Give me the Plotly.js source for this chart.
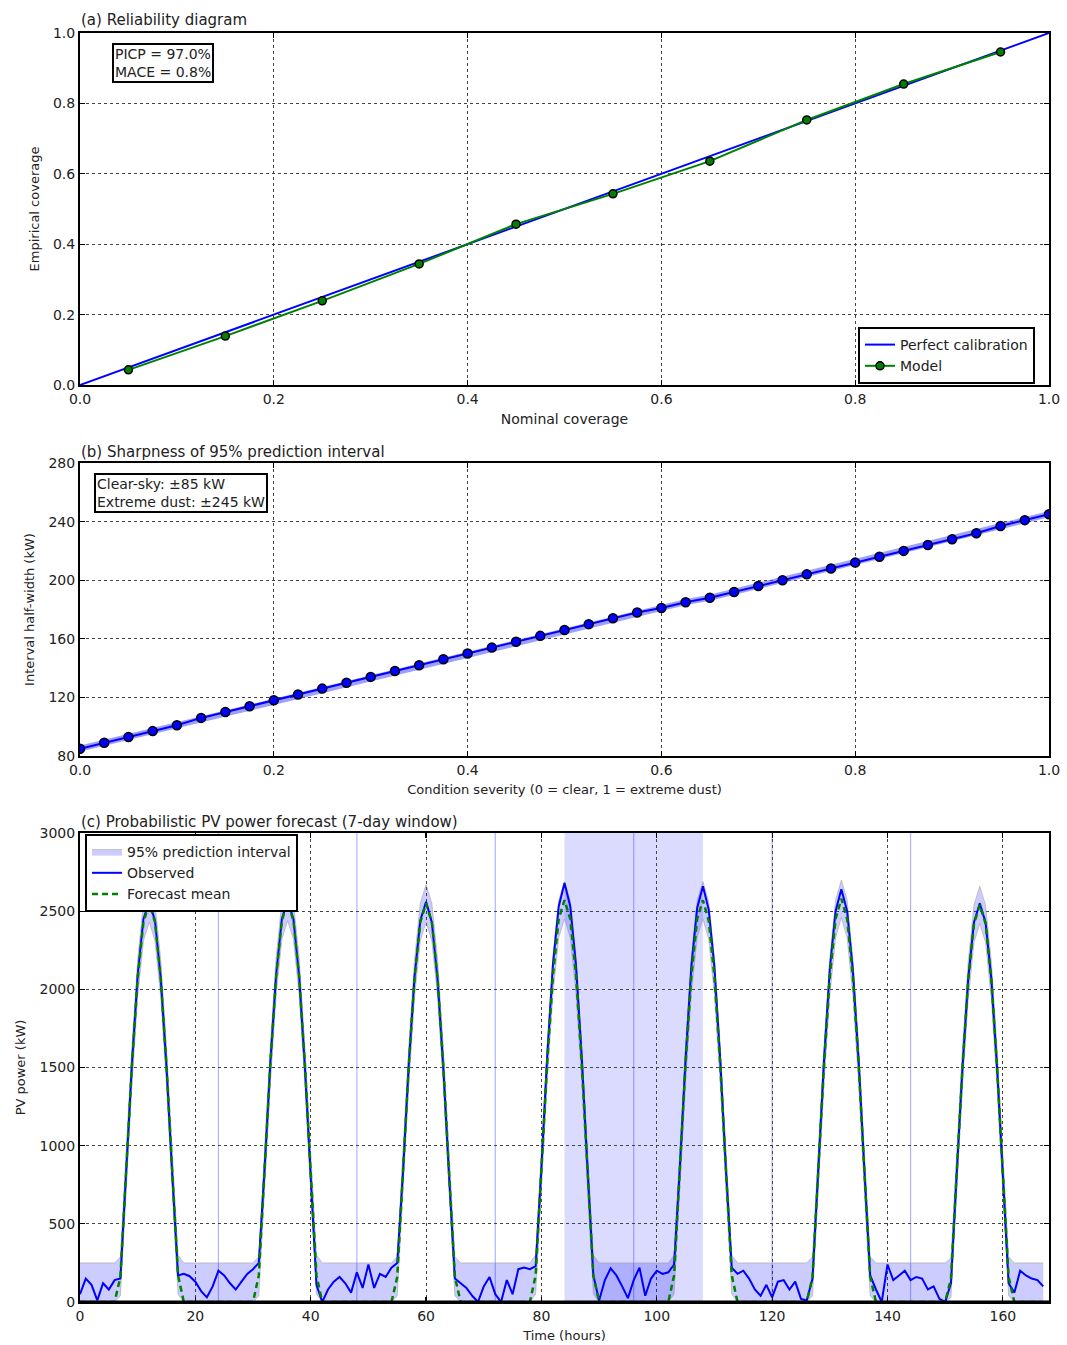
<!DOCTYPE html>
<html>
<head>
<meta charset="utf-8">
<script src="https://cdn.plot.ly/plotly-3.0.1.min.js"></script>
<style>html,body{margin:0;padding:0;background:#fff;}#chart{width:1067px;height:1345px;}</style>
</head>
<body>
<div id="chart"></div>
<script>
// ---------- Panel (a) Reliability diagram ----------
const perfectX = [0, 1];
const perfectY = [0, 1];
const nominalCoverage = [0.05, 0.15, 0.25, 0.35, 0.45, 0.55, 0.65, 0.75, 0.85, 0.95];
const empiricalCoverage = [0.043, 0.139, 0.239, 0.344, 0.457, 0.543, 0.636, 0.753, 0.855, 0.946];

// ---------- Panel (b) Sharpness ----------
const severity = [0, 0.025, 0.05, 0.075, 0.1, 0.125, 0.15, 0.175, 0.2, 0.225, 0.25, 0.275, 0.3, 0.325, 0.35, 0.375, 0.4, 0.425, 0.45, 0.475,
  0.5, 0.525, 0.55, 0.575, 0.6, 0.625, 0.65, 0.675, 0.7, 0.725, 0.75, 0.775, 0.8, 0.825, 0.85, 0.875, 0.9, 0.925, 0.95, 0.975, 1.0];
const halfWidth = [85, 89, 93, 97, 101, 106, 110, 114, 118, 122, 126, 130, 134, 138, 142, 146, 150, 154, 158, 162,
  166, 170, 174, 178, 181, 185, 188, 192, 196, 200, 204, 208, 212, 216, 220, 224, 228, 232, 237, 241, 245];

// ---------- Panel (c) Probabilistic PV forecast ----------
const hours = [
  0,1,2,3,4,5,6,7,8,9,10,11,12,13,14,15,16,17,18,19,20,21,22,23,
  24,25,26,27,28,29,30,31,32,33,34,35,36,37,38,39,40,41,42,43,44,45,46,47,
  48,49,50,51,52,53,54,55,56,57,58,59,60,61,62,63,64,65,66,67,68,69,70,71,
  72,73,74,75,76,77,78,79,80,81,82,83,84,85,86,87,88,89,90,91,92,93,94,95,
  96,97,98,99,100,101,102,103,104,105,106,107,108,109,110,111,112,113,114,115,116,117,118,119,
  120,121,122,123,124,125,126,127,128,129,130,131,132,133,134,135,136,137,138,139,140,141,142,143,
  144,145,146,147,148,149,150,151,152,153,154,155,156,157,158,159,160,161,162,163,164,165,166,167];
const observed = [
  50,150,110,10,120,80,140,150,830,1520,2090,2450,2560,2440,2070,1500,810,170,180,165,130,70,30,100,
  200,170,120,80,130,180,210,250,850,1530,2090,2450,2570,2450,2080,1500,800,110,0,80,130,160,120,60,
  190,90,240,90,180,160,220,250,830,1520,2080,2440,2560,2430,2060,1490,800,150,120,90,40,0,100,160,
  50,0,140,50,210,220,210,230,860,1570,2160,2530,2680,2530,2150,1560,850,170,10,140,215,170,100,25,
  140,220,40,150,200,180,190,240,860,1560,2150,2520,2660,2510,2140,1550,840,220,180,200,150,80,40,110,
  30,130,140,80,130,20,10,150,850,1550,2130,2500,2640,2500,2120,1540,840,170,80,0,240,140,170,200,
  140,160,150,80,100,20,0,120,820,1500,2070,2430,2550,2430,2070,1500,810,120,60,200,170,150,140,100];
const forecastMean = [
  0,0,0,0,0,0,0,160,830,1510,2070,2430,2550,2430,2070,1510,830,170,0,0,0,0,0,0,
  0,0,0,0,0,0,0,170,840,1520,2080,2440,2560,2440,2080,1510,830,170,0,0,0,0,0,0,
  0,0,0,0,0,0,0,160,830,1510,2070,2430,2550,2430,2070,1500,820,160,0,0,0,0,0,0,
  0,0,0,0,0,0,0,170,850,1530,2090,2450,2570,2450,2090,1520,840,170,0,0,0,0,0,0,
  0,0,0,0,0,0,0,170,840,1530,2090,2450,2570,2440,2080,1520,840,170,0,0,0,0,0,0,
  0,0,0,0,0,0,0,160,840,1520,2080,2450,2580,2450,2080,1520,830,160,0,0,0,0,0,0,
  0,0,0,0,0,0,0,150,820,1500,2060,2420,2540,2420,2060,1500,820,160,0,0,0,0,0,0];
const intervalLower = [
  0,0,0,0,0,0,0,40,710,1390,1950,2310,2430,2310,1950,1390,710,50,0,0,0,0,0,0,
  0,0,0,0,0,0,0,40,720,1400,1960,2320,2440,2320,1960,1390,710,50,0,0,0,0,0,0,
  0,0,0,0,0,0,0,40,710,1390,1950,2310,2430,2310,1950,1380,700,40,0,0,0,0,0,0,
  0,0,0,0,0,0,0,50,730,1410,1970,2330,2450,2330,1970,1400,720,50,0,0,0,0,0,0,
  0,0,0,0,0,0,0,50,720,1410,1970,2330,2450,2320,1960,1400,720,50,0,0,0,0,0,0,
  0,0,0,0,0,0,0,40,720,1400,1960,2330,2460,2330,1960,1400,710,40,0,0,0,0,0,0,
  0,0,0,0,0,0,0,30,700,1380,1940,2300,2420,2300,1940,1380,700,40,0,0,0,0,0,0];
const intervalUpper = [
  250,250,250,250,250,250,250,290,950,1630,2190,2550,2670,2550,2190,1630,950,300,250,250,250,250,250,250,
  250,250,250,250,250,250,250,290,960,1640,2200,2560,2680,2560,2200,1630,950,300,250,250,250,250,250,250,
  250,250,250,250,250,250,250,290,950,1630,2190,2550,2670,2550,2190,1620,940,290,250,250,250,250,250,250,
  250,250,250,250,250,250,250,300,970,1650,2210,2570,2690,2570,2210,1640,960,300,250,250,250,250,250,250,
  250,250,250,250,250,250,250,300,960,1650,2210,2570,2690,2560,2200,1640,960,300,250,250,250,250,250,250,
  250,250,250,250,250,250,250,290,960,1640,2200,2570,2700,2570,2200,1640,950,290,250,250,250,250,250,250,
  250,250,250,250,250,250,250,280,940,1620,2180,2540,2660,2540,2180,1620,940,290,250,250,250,250,250,250];
const dayBoundaries = [24, 48, 72, 96, 120, 144];
const dustEvent = [84, 108];

// ---------- Styling ----------
const FONT = 'DejaVu Sans, sans-serif';
const TXT = '#222';
const common = {
  showline: true, linecolor: '#000', linewidth: 2, mirror: 'ticks',
  ticks: 'inside', ticklen: 5, tickwidth: 1.2, tickcolor: '#000',
  showgrid: true, gridcolor: '#444', griddash: 'dot', gridwidth: 1,
  zeroline: false, automargin: false,
  tickfont: {family: FONT, size: 14, color: TXT}
};
const xDom = [80/1067, 1049/1067];

const traces = [
  // (a)
  {x: perfectX, y: perfectY, xaxis: 'x', yaxis: 'y', mode: 'lines', name: 'Perfect calibration',
   line: {color: '#0000ff', width: 2}, legend: 'legend'},
  {x: nominalCoverage, y: empiricalCoverage, xaxis: 'x', yaxis: 'y', mode: 'lines+markers', name: 'Model',
   line: {color: '#008000', width: 2},
   marker: {color: '#008000', size: 8, line: {color: '#000', width: 1.5}}, legend: 'legend'},
  // (b)
  {x: severity, y: halfWidth, xaxis: 'x2', yaxis: 'y2', mode: 'lines', showlegend: false,
   line: {color: 'rgba(80,80,255,0.55)', width: 6}, hoverinfo: 'skip'},
  {x: severity, y: halfWidth, xaxis: 'x2', yaxis: 'y2', mode: 'lines+markers', showlegend: false,
   line: {color: '#0000ff', width: 2},
   marker: {color: '#0000ff', size: 9, line: {color: '#000', width: 1.5}}},
  // (c)
  {x: hours, y: intervalLower, xaxis: 'x3', yaxis: 'y3', mode: 'lines', showlegend: false,
   line: {color: 'rgba(150,150,150,0.5)', width: 1}, legend: 'legend2', hoverinfo: 'skip'},
  {x: hours, y: intervalUpper, xaxis: 'x3', yaxis: 'y3', mode: 'lines', name: '95% prediction interval',
   fill: 'tonexty', fillcolor: 'rgba(0,0,255,0.2)',
   line: {color: 'rgba(150,150,150,0.5)', width: 1}, legend: 'legend2'},
  {x: hours, y: observed, xaxis: 'x3', yaxis: 'y3', mode: 'lines', name: 'Observed',
   line: {color: '#0000ff', width: 2}, legend: 'legend2'},
  {x: hours, y: forecastMean, xaxis: 'x3', yaxis: 'y3', mode: 'lines', name: 'Forecast mean',
   line: {color: '#008000', width: 2.5, dash: '6px,4px'}, legend: 'legend2'}
];

const shapes = [];
shapes.push({type: 'rect', xref: 'x3', yref: 'y3 domain', x0: dustEvent[0], x1: dustEvent[1], y0: 0, y1: 1,
  fillcolor: 'rgba(0,0,255,0.14)', line: {width: 0}, layer: 'below'});
dayBoundaries.forEach(d => shapes.push({type: 'line', xref: 'x3', yref: 'y3 domain', x0: d, x1: d, y0: 0, y1: 1,
  line: {color: 'rgba(0,0,255,0.3)', width: 1.2}, layer: 'below'}));
// spine over the zero baseline of panel (c), as in the original
shapes.push({type: 'line', xref: 'x3 domain', yref: 'y3 domain', x0: 0, x1: 1, y0: 0, y1: 0,
  line: {color: '#000', width: 3}, layer: 'above'});

const boxFont = {family: FONT, size: 14, color: TXT};
const titleFont = {family: FONT, size: 15, color: TXT};
const annotations = [
  {xref: 'paper', yref: 'paper', x: 79/1067, y: 1 - 31/1345, xanchor: 'left', yanchor: 'bottom',
   text: '(a) Reliability diagram', showarrow: false, font: titleFont},
  {xref: 'paper', yref: 'paper', x: 79/1067, y: 1 - 463/1345, xanchor: 'left', yanchor: 'bottom',
   text: '(b) Sharpness of 95% prediction interval', showarrow: false, font: titleFont},
  {xref: 'paper', yref: 'paper', x: 79/1067, y: 1 - 833/1345, xanchor: 'left', yanchor: 'bottom',
   text: '(c) Probabilistic PV power forecast (7-day window)', showarrow: false, font: titleFont},
  {xref: 'x', yref: 'y', x: 0.033, y: 0.972, xanchor: 'left', yanchor: 'top', align: 'left',
   text: 'PICP = 97.0%<br>MACE = 0.8%', showarrow: false, font: boxFont,
   bordercolor: '#000', borderwidth: 2, borderpad: 1, bgcolor: '#fff'},
  {xref: 'x2', yref: 'y2', x: 0.0145, y: 273.5, xanchor: 'left', yanchor: 'top', align: 'left',
   text: 'Clear-sky: ±85 kW<br>Extreme dust: ±245 kW', showarrow: false, font: boxFont,
   bordercolor: '#000', borderwidth: 2, borderpad: 1, bgcolor: '#fff'}
];

const axTitleFont = {family: FONT, size: 14, color: TXT};
const layout = {
  width: 1067, height: 1345,
  margin: {l: 0, r: 0, t: 0, b: 0},
  paper_bgcolor: '#fff', plot_bgcolor: '#fff',
  font: {family: FONT, size: 14, color: TXT},
  showlegend: true,
  xaxis: Object.assign({}, common, {domain: xDom, anchor: 'y', range: [0, 1], dtick: 0.2, tick0: 0, tickformat: '.1f',
    title: {text: 'Nominal coverage', font: axTitleFont, standoff: 8}}),
  yaxis: Object.assign({}, common, {domain: [1 - 385/1345, 1 - 33/1345], anchor: 'x', range: [0, 1], dtick: 0.2, tick0: 0, tickformat: '.1f',
    title: {text: 'Empirical coverage', font: {family: FONT, size: 13, color: TXT}, standoff: 10}}),
  xaxis2: Object.assign({}, common, {domain: xDom, anchor: 'y2', range: [0, 1], dtick: 0.2, tick0: 0, tickformat: '.1f',
    title: {text: 'Condition severity (0 = clear, 1 = extreme dust)', font: {family: FONT, size: 13, color: TXT}, standoff: 8}}),
  yaxis2: Object.assign({}, common, {domain: [1 - 756/1345, 1 - 463/1345], anchor: 'x2', range: [80, 280], dtick: 40, tick0: 80,
    title: {text: 'Interval half-width (kW)', font: {family: FONT, size: 13, color: TXT}, standoff: 11}}),
  xaxis3: Object.assign({}, common, {domain: xDom, anchor: 'y3', range: [0, 168], dtick: 20, tick0: 0,
    title: {text: 'Time (hours)', font: {family: FONT, size: 13, color: TXT}, standoff: 8}}),
  yaxis3: Object.assign({}, common, {domain: [1 - 1302/1345, 1 - 833/1345], anchor: 'x3', range: [0, 3000], dtick: 500, tick0: 0,
    title: {text: 'PV power (kW)', font: {family: FONT, size: 13, color: TXT}, standoff: 11}}),
  legend: {x: 858/1067, y: 1 - 327/1345, xanchor: 'left', yanchor: 'top', bgcolor: '#fff', traceorder: 'normal',
    bordercolor: '#000', borderwidth: 2, font: {family: FONT, size: 14, color: TXT}, tracegroupgap: 0},
  legend2: {x: 85/1067, y: 1 - 834/1345, xanchor: 'left', yanchor: 'top', bgcolor: '#fff', traceorder: 'normal',
    bordercolor: '#000', borderwidth: 2, font: {family: FONT, size: 14, color: TXT}, tracegroupgap: 0},
  shapes: shapes,
  annotations: annotations
};

Plotly.newPlot('chart', traces, layout, {displayModeBar: false, staticPlot: true});
</script>
</body>
</html>
